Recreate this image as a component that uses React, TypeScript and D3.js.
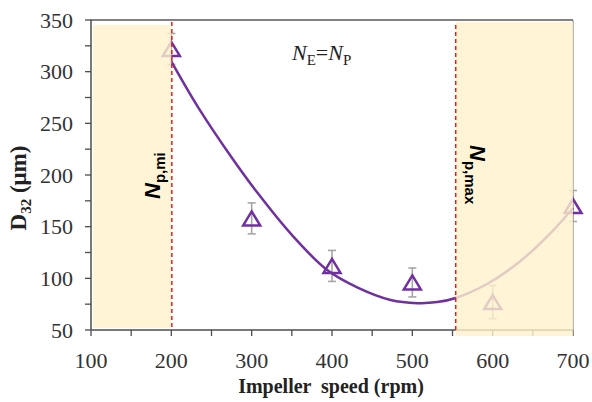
import React from "react";
import * as d3 from "d3";

// Measured droplet size (D32, µm) at each impeller speed, with error half-widths
const speeds = [200, 300, 400, 500, 600, 700];
const d32 = [322, 158, 112, 96, 77, 170];
const d32Err = [15, 15, 15, 14, 16, 15];

// Fitted trend of D32 against speed
const fitSpeeds = [200, 233, 276, 308, 350, 394, 432, 473, 506, 531, 554, 594, 635, 676, 700];
const fitD32 = [310, 266, 216, 182, 142, 108, 91, 79, 76, 77, 81, 95, 117, 147, 168];

// Operating window limits (rpm)
const npMin = 200;
const npMax = 554;

const xTicks = [100, 200, 300, 400, 500, 600, 700];
const yTicks = [50, 100, 150, 200, 250, 300, 350];

const W = 592;
const H = 402;

export default function App() {
  const x = d3.scaleLinear().domain([100, 700]).range([91, 573]);
  const y = d3.scaleLinear().domain([50, 350]).range([330, 20]);

  const purple = "#7030a0";
  const axisColor = "#4d4d4d";
  const serif = "'Liberation Serif', 'Times New Roman', serif";
  const sans = "'Liberation Sans', Arial, sans-serif";

  const line = d3
    .line<number>()
    .x((_, i) => x(fitSpeeds[i]))
    .y((v) => y(v))
    .curve(d3.curveCatmullRom.alpha(0.5));
  const fitPath = line(fitD32) || "";

  const minorX = d3.range(100, 701, 50);
  const minorY = d3.range(50, 351, 25);

  const tri = "M0,-7 L8.5,7 L-8.5,7 Z";

  return (
    <svg
      width={W}
      height={H}
      style={{ position: "absolute", left: 0, top: 0, background: "#fff" }}
    >
      {/* frame */}
      <line x1={x(100)} x2={x(700)} y1={y(350)} y2={y(350)} stroke="#595959" strokeWidth={1.5} />
      <line x1={x(700)} x2={x(700)} y1={y(350)} y2={y(50)} stroke="#8c8c8c" strokeWidth={1.2} />

      {/* y axis */}
      <line x1={x(100)} x2={x(100)} y1={y(350) - 0.5} y2={y(50)} stroke={axisColor} strokeWidth={1.5} />
      {minorY.map((v) => (
        <line key={"yt" + v} x1={x(100) - 6} x2={x(100)} y1={y(v)} y2={y(v)} stroke={axisColor} strokeWidth={1.3} />
      ))}
      {yTicks.map((v) => (
        <text
          key={"yl" + v}
          x={73}
          y={y(v)}
          dy="0.35em"
          textAnchor="end"
          fontFamily={serif}
          fontSize={22}
          fill="#333"
        >
          {v}
        </text>
      ))}

      {/* x axis */}
      <line x1={x(100)} x2={x(700)} y1={y(50)} y2={y(50)} stroke={axisColor} strokeWidth={1.5} />
      {minorX.map((v) => (
        <line key={"xt" + v} x1={x(v)} x2={x(v)} y1={y(50)} y2={y(50) + 6} stroke={axisColor} strokeWidth={1.3} />
      ))}
      {xTicks.map((v) => (
        <text
          key={"xl" + v}
          x={x(v)}
          y={368}
          textAnchor="middle"
          fontFamily={serif}
          fontSize={22}
          fill="#333"
        >
          {v}
        </text>
      ))}

      {/* error bars */}
      {speeds.map((s, i) => (
        <g key={"eb" + s} stroke="#a6a6a6" strokeWidth={1.6}>
          <line x1={x(s)} x2={x(s)} y1={y(d32[i] + d32Err[i])} y2={y(d32[i] - d32Err[i])} />
          <line x1={x(s) - 4} x2={x(s) + 4} y1={y(d32[i] + d32Err[i])} y2={y(d32[i] + d32Err[i])} />
          <line x1={x(s) - 4} x2={x(s) + 4} y1={y(d32[i] - d32Err[i])} y2={y(d32[i] - d32Err[i])} />
        </g>
      ))}

      {/* fitted curve */}
      <path d={fitPath} fill="none" stroke={purple} strokeWidth={2.5} />

      {/* measured points */}
      {speeds.map((s, i) => (
        <path
          key={"pt" + s}
          d={tri}
          transform={`translate(${x(s)},${y(d32[i])})`}
          fill="none"
          stroke={purple}
          strokeWidth={2.5}
          strokeLinejoin="miter"
        />
      ))}

      {/* regions outside the operating window */}
      <rect
        x={x(100) + 2}
        y={25}
        width={x(npMin) - x(100) - 2}
        height={y(50) - 25 - 2}
        fill="#fff2cc"
        fillOpacity={0.8}
      />
      <rect
        x={x(npMax)}
        y={22}
        width={x(700) - x(npMax)}
        height={336 - 22}
        fill="#fff2cc"
        fillOpacity={0.8}
      />

      {/* window limits */}
      <line x1={x(npMin) + 0.5} x2={x(npMin) + 0.5} y1={22} y2={y(50)} stroke="#e02020" strokeWidth={1.5} strokeDasharray="4,3" />
      <line x1={x(npMax)} x2={x(npMax)} y1={25} y2={y(50)} stroke="#e02020" strokeWidth={1.5} strokeDasharray="4,3" />

      {/* annotations */}
      <text x={292} y={60} fontFamily={serif} fontSize={22} fill="#222">
        <tspan fontStyle="italic">N</tspan>
        <tspan fontSize={15} dy={5}>E</tspan>
        <tspan dy={-5}>=</tspan>
        <tspan fontStyle="italic">N</tspan>
        <tspan fontSize={15} dy={5}>P</tspan>
      </text>

      <text
        transform={`translate(160,199) rotate(-90)`}
        fontFamily={sans}
        fontWeight="bold"
        fill="#000"
      >
        <tspan fontSize={22} fontStyle="italic">N</tspan>
        <tspan fontSize={15} dy={5}>p,mi</tspan>
      </text>

      <text
        transform={`translate(470,145) rotate(90)`}
        fontFamily={sans}
        fontWeight="bold"
        fill="#000"
      >
        <tspan fontSize={22} fontStyle="italic">N</tspan>
        <tspan fontSize={15} dy={5}>p,max</tspan>
      </text>

      {/* axis titles */}
      <text
        transform={`translate(26,188) rotate(-90)`}
        textAnchor="middle"
        fontFamily={serif}
        fontWeight="bold"
        fontSize={23}
        fill="#222"
      >
        D<tspan fontSize={15} dy={5}>32</tspan>
        <tspan dy={-5}> (μm)</tspan>
      </text>

      <text
        x={331}
        y={393}
        textAnchor="middle"
        fontFamily={serif}
        fontWeight="bold"
        fontSize={20}
        fill="#222"
        style={{ whiteSpace: "pre" }}
      >
        {"Impeller  speed (rpm)"}
      </text>
    </svg>
  );
}
